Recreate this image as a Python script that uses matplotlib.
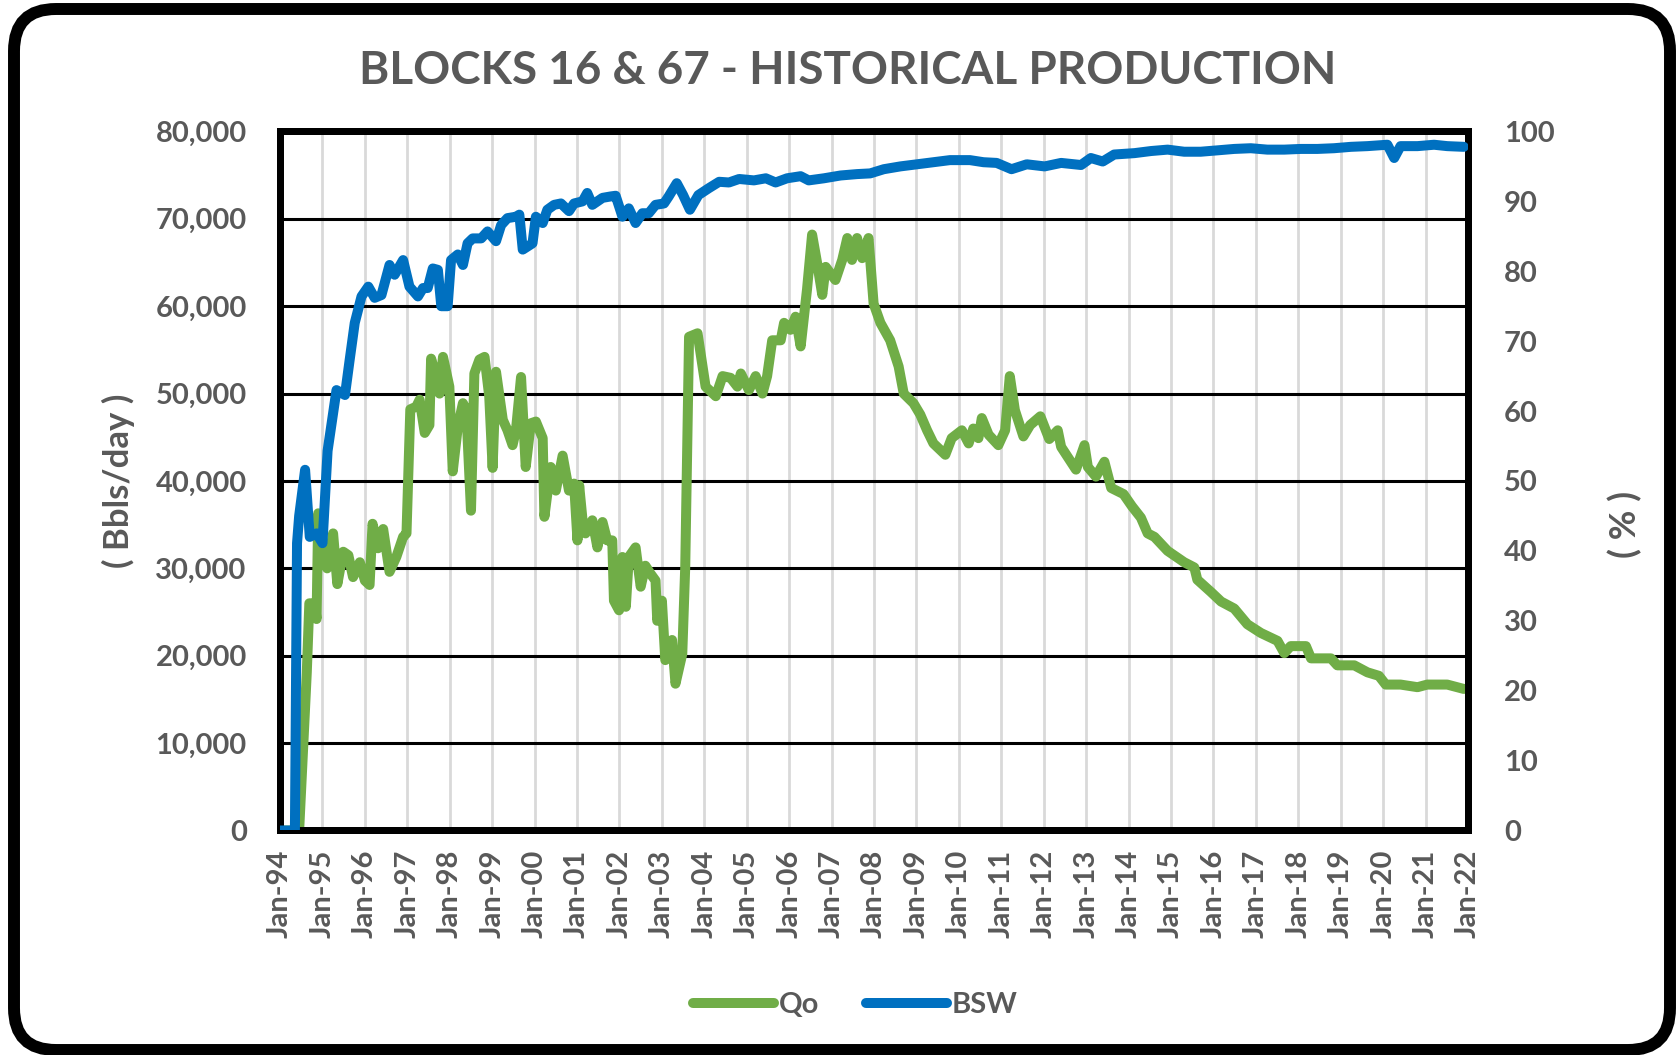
import matplotlib.pyplot as plt
from matplotlib.patches import FancyBboxPatch
from matplotlib.transforms import IdentityTransform
from matplotlib.lines import Line2D
import numpy as np

# Qo, oil rate (bbl/day), time in decimal years
qo_t = [1994.00, 1994.45, 1994.63, 1994.69, 1994.82, 1994.86, 1994.90, 1994.98, 1995.11, 1995.25,
        1995.35, 1995.49, 1995.61, 1995.72, 1995.88, 1996.00, 1996.11, 1996.18, 1996.31, 1996.43,
        1996.58, 1996.74, 1996.90, 1996.98, 1997.07, 1997.21, 1997.29, 1997.41, 1997.52, 1997.56,
        1997.68, 1997.76, 1997.84, 1997.99, 1998.07, 1998.19, 1998.31, 1998.39, 1998.50, 1998.58,
        1998.70, 1998.82, 1998.93, 1999.01, 1999.09, 1999.25, 1999.36, 1999.48, 1999.56, 1999.68,
        1999.79, 1999.91, 2000.03, 2000.19, 2000.23, 2000.38, 2000.50, 2000.66, 2000.81, 2000.93,
        2001.01, 2001.05, 2001.13, 2001.20, 2001.36, 2001.48, 2001.60, 2001.71, 2001.83, 2001.87,
        2001.99, 2002.07, 2002.15, 2002.22, 2002.38, 2002.50, 2002.61, 2002.73, 2002.85, 2002.89,
        2003.00, 2003.08, 2003.24, 2003.32, 2003.48, 2003.55, 2003.64, 2003.84, 2004.03, 2004.27,
        2004.43, 2004.62, 2004.78, 2004.86, 2005.05, 2005.21, 2005.37, 2005.48, 2005.60, 2005.80,
        2005.88, 2006.03, 2006.15, 2006.27, 2006.42, 2006.54, 2006.66, 2006.78, 2006.86, 2007.09,
        2007.25, 2007.37, 2007.48, 2007.60, 2007.72, 2007.87, 2007.99, 2008.15, 2008.38, 2008.58,
        2008.70, 2008.93, 2009.09, 2009.25, 2009.40, 2009.68, 2009.83, 2010.07, 2010.23, 2010.34,
        2010.46, 2010.54, 2010.70, 2010.93, 2011.09, 2011.20, 2011.32, 2011.52, 2011.68, 2011.92,
        2012.13, 2012.33, 2012.41, 2012.76, 2012.96, 2013.04, 2013.23, 2013.43, 2013.59, 2013.88,
        2014.08, 2014.29, 2014.45, 2014.61, 2014.92, 2015.31, 2015.55, 2015.62, 2015.94, 2016.18,
        2016.49, 2016.80, 2017.12, 2017.51, 2017.67, 2017.82, 2018.18, 2018.30, 2018.77, 2018.92,
        2019.32, 2019.63, 2019.90, 2020.06, 2020.41, 2020.81, 2021.04, 2021.51, 2021.90]
qo_k = [0, 0, 18.1, 26.0, 26.0, 24.2, 36.3, 32.8, 30.0, 34.0,
        28.2, 31.9, 31.5, 29.0, 30.7, 28.6, 28.1, 35.1, 32.3, 34.5,
        29.6, 31.3, 33.6, 34.0, 48.2, 48.5, 49.3, 45.5, 46.4, 54.0,
        51.9, 50.0, 54.2, 50.8, 41.1, 46.2, 48.9, 48.1, 36.6, 52.3,
        53.9, 54.2, 49.7, 41.5, 52.5, 47.0, 45.8, 44.1, 45.8, 51.9,
        41.6, 46.6, 46.8, 44.9, 35.9, 41.6, 38.9, 42.9, 38.9, 39.7,
        33.2, 39.5, 35.5, 34.0, 35.5, 32.4, 35.3, 33.2, 33.2, 26.3,
        25.2, 31.3, 25.6, 31.3, 32.4, 27.9, 30.3, 29.4, 28.6, 24.0,
        26.3, 19.5, 21.8, 16.8, 20.2, 30.2, 56.5, 56.9, 50.8, 49.7,
        52.0, 51.8, 50.8, 52.3, 50.4, 52.0, 50.0, 52.0, 56.1, 56.1,
        58.1, 57.3, 58.8, 55.4, 61.9, 68.2, 64.9, 61.3, 64.5, 63.0,
        65.3, 67.8, 65.3, 67.8, 65.5, 67.8, 60.3, 58.1, 56.1, 53.1,
        50.0, 48.9, 47.6, 45.8, 44.3, 43.0, 44.9, 45.8, 44.3, 46.0,
        44.9, 47.2, 45.3, 44.1, 45.8, 52.0, 48.1, 45.1, 46.4, 47.4,
        44.8, 45.8, 43.9, 41.3, 44.1, 41.6, 40.5, 42.2, 39.2, 38.5,
        37.1, 35.8, 34.0, 33.6, 32.0, 30.7, 30.1, 28.7, 27.3, 26.2,
        25.4, 23.6, 22.6, 21.7, 20.3, 21.1, 21.1, 19.7, 19.7, 18.9,
        18.9, 18.1, 17.7, 16.7, 16.7, 16.4, 16.7, 16.7, 16.2]

# BSW (%)
bsw_t = [1994.00, 1994.35, 1994.40, 1994.45, 1994.59, 1994.70, 1994.86, 1995.00, 1995.12, 1995.33,
         1995.53, 1995.64, 1995.76, 1995.92, 1996.08, 1996.23, 1996.39, 1996.58, 1996.70, 1996.90,
         1997.05, 1997.25, 1997.37, 1997.48, 1997.60, 1997.72, 1997.80, 1997.95, 1998.03, 1998.19,
         1998.31, 1998.42, 1998.54, 1998.74, 1998.89, 1999.09, 1999.21, 1999.36, 1999.56, 1999.64,
         1999.72, 1999.95, 2000.03, 2000.19, 2000.30, 2000.46, 2000.62, 2000.81, 2000.93, 2001.13,
         2001.24, 2001.36, 2001.60, 2001.79, 2001.91, 2002.07, 2002.22, 2002.38, 2002.54, 2002.69,
         2002.85, 2003.05, 2003.16, 2003.35, 2003.50, 2003.66, 2003.86, 2004.11, 2004.35, 2004.58,
         2004.82, 2005.17, 2005.45, 2005.68, 2005.95, 2006.27, 2006.46, 2006.82, 2007.21, 2007.60,
         2007.91, 2008.23, 2008.62, 2009.01, 2009.40, 2009.79, 2010.26, 2010.58, 2010.89, 2011.24,
         2011.60, 2012.02, 2012.41, 2012.88, 2013.11, 2013.39, 2013.66, 2014.14, 2014.53, 2014.92,
         2015.31, 2015.70, 2016.10, 2016.49, 2016.88, 2017.27, 2017.67, 2018.06, 2018.45, 2018.84,
         2019.24, 2019.63, 2020.10, 2020.26, 2020.41, 2020.81, 2021.20, 2021.51, 2021.90]
bsw = [0, 0, 41.1, 45.0, 51.6, 42.0, 42.5, 41.1, 54.3, 63.0,
       62.3, 67.3, 72.6, 76.4, 77.8, 76.2, 76.6, 80.9, 79.5, 81.6,
       77.8, 76.4, 77.6, 77.6, 80.4, 80.2, 75.0, 75.0, 81.6, 82.4,
       80.9, 84.0, 84.7, 84.7, 85.7, 84.3, 86.6, 87.6, 87.8, 88.1,
       83.1, 84.0, 87.8, 86.9, 88.8, 89.5, 89.7, 88.6, 89.7, 90.0,
       91.2, 89.5, 90.5, 90.7, 90.8, 87.8, 89.0, 86.9, 88.3, 88.3,
       89.5, 89.7, 90.7, 92.6, 90.9, 88.8, 90.9, 91.9, 92.8, 92.7,
       93.2, 93.0, 93.3, 92.7, 93.3, 93.6, 93.0, 93.3, 93.7, 93.9,
       94.0, 94.6, 95.0, 95.3, 95.6, 95.9, 95.9, 95.6, 95.5, 94.6,
       95.3, 95.0, 95.5, 95.2, 96.2, 95.7, 96.7, 96.9, 97.2, 97.4,
       97.1, 97.1, 97.3, 97.5, 97.6, 97.4, 97.4, 97.5, 97.5, 97.6,
       97.8, 97.9, 98.1, 96.2, 97.9, 97.9, 98.1, 97.9, 97.8]

years = list(range(1994, 2023))
year_labels = ['Jan-%02d' % (y % 100) for y in years]
qo_ticks = list(range(0, 80001, 10000))
bsw_ticks = list(range(0, 101, 10))

GREEN = '#70AD47'
BLUE = '#0070C0'
GREY = '#595959'

plt.rcParams['font.family'] = ['Lato', 'DejaVu Sans']
plt.rcParams['font.weight'] = 'bold'

fig = plt.figure(figsize=(16.76, 10.55), dpi=100)
ax = fig.add_axes([0.1671, 0.2128, 0.7088, 0.6626])
ax2 = ax.twinx()

# rounded outer frame, in pixels
frame = FancyBboxPatch((14, 5), 1656, 1041, boxstyle='round,pad=0,rounding_size=42',
                       transform=IdentityTransform(), fill=False, ec='black', lw=8.6)
fig.add_artist(frame)

ax.plot(qo_t, np.array(qo_k) * 1000, color=GREEN, lw=7.2, solid_joinstyle='round',
        solid_capstyle='round', zorder=3)
ax2.plot(bsw_t, bsw, color=BLUE, lw=7.2, solid_joinstyle='round',
         solid_capstyle='round', zorder=3)

ax.set_xlim(1994, 2022)
ax.set_ylim(0, 80000)
ax2.set_ylim(0, 100)
ax.set_xticks(years)
ax.set_xticklabels(year_labels, rotation=90)
ax.set_yticks(qo_ticks)
ax.set_yticklabels(['{:,}'.format(v) for v in qo_ticks])
ax2.set_yticks(bsw_ticks)

ax.grid(axis='x', color='#d9d9d9', lw=2)
ax.grid(axis='y', color='black', lw=2.2)

for a in (ax, ax2):
    for s in a.spines.values():
        s.set_linewidth(5)
        s.set_color('black')
ax.tick_params(axis='both', length=0, labelcolor=GREY, labelsize=21)
ax.tick_params(axis='y', pad=24)
ax.tick_params(axis='x', pad=14)
ax2.tick_params(axis='y', length=0, labelcolor=GREY, labelsize=21, pad=26)

fig.text(0.506, 0.933, 'BLOCKS 16 & 67 - HISTORICAL PRODUCTION', ha='center', va='center',
         fontsize=33, fontweight='bold', color=GREY)
fig.text(118 / 1676, 1 - 481 / 1055, '( Bbls/day )', rotation=90, ha='center', va='center',
         fontsize=25, fontweight='bold', color=GREY)
fig.text(1625 / 1676, 1 - 524 / 1055, '( % )', rotation=90, ha='center', va='center',
         fontsize=26, fontweight='bold', color=GREY)

handles = [Line2D([], [], color=GREEN, lw=7.2, solid_capstyle='round'),
           Line2D([], [], color=BLUE, lw=7.2, solid_capstyle='round')]
fig.legend(handles, ['Qo', 'BSW'], loc='center', bbox_to_anchor=(855 / 1676, 1 - 1005 / 1055),
           ncol=2, frameon=False, fontsize=21, handlelength=2.8, handletextpad=0.15,
           columnspacing=1.6, labelcolor=GREY)

plt.savefig('out.png', dpi=100)
plt.close()
